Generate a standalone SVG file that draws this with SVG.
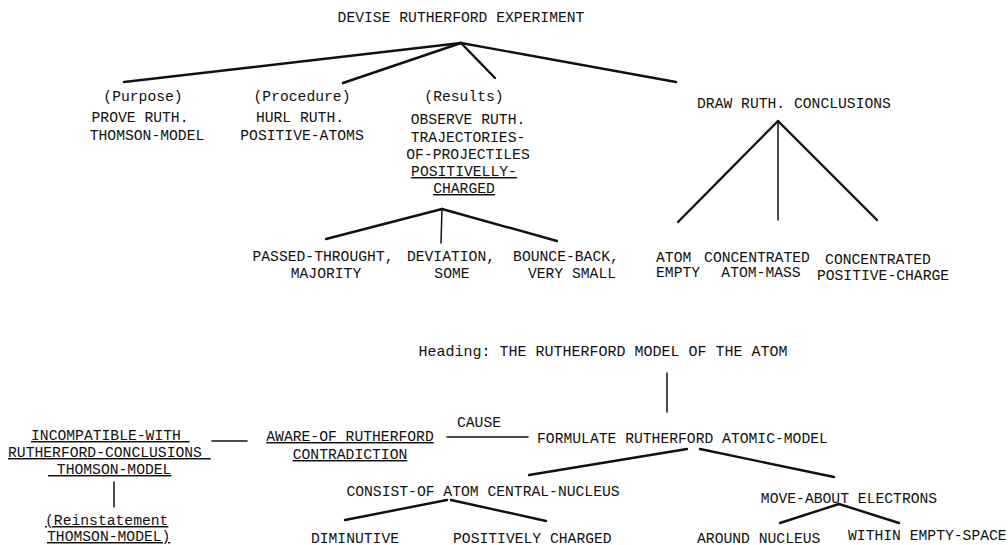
<svg xmlns="http://www.w3.org/2000/svg" width="1008" height="545" viewBox="0 0 1008 545">
<style>
text{font-family:"Liberation Mono","Courier New",monospace;font-size:14.7px;fill:#111;white-space:pre}
.m{text-anchor:middle}
.u{text-decoration:underline}
.h{font-size:15px}
line{stroke:#111;stroke-linecap:round}
.k{stroke-width:2.4}
.t{stroke-width:1.5}
</style>
<rect width="1008" height="545" fill="#fff"/>
<g id="connectors">
<line class="k" x1="461" y1="43" x2="124" y2="82"/>
<line class="k" x1="461" y1="43" x2="343" y2="83"/>
<line class="k" x1="461" y1="43" x2="495" y2="78"/>
<line class="k" x1="461" y1="43" x2="676" y2="82"/>
<line class="k" x1="778" y1="121" x2="678" y2="222"/>
<line class="t" x1="778" y1="121" x2="778" y2="220"/>
<line class="k" x1="778" y1="121" x2="877" y2="220"/>
<line class="k" x1="442" y1="209" x2="326" y2="239"/>
<line class="t" x1="442" y1="209" x2="441" y2="243"/>
<line class="k" x1="442" y1="209" x2="557" y2="241"/>
<line class="t" x1="667" y1="373" x2="667" y2="412"/>
<line class="t" x1="447" y1="437" x2="528" y2="437"/>
<line class="t" x1="212" y1="441" x2="247" y2="441"/>
<line class="t" x1="114" y1="482" x2="114" y2="507"/>
<line class="k" x1="687" y1="449" x2="529" y2="475"/>
<line class="k" x1="700" y1="449" x2="834" y2="477"/>
<line class="k" x1="447" y1="500" x2="345" y2="520"/>
<line class="k" x1="451" y1="500" x2="546" y2="521"/>
<line class="k" x1="839" y1="504" x2="780" y2="523"/>
<line class="k" x1="839" y1="504" x2="899" y2="523"/>
</g>
<g id="devise"><text class="m" x="461" y="22">DEVISE RUTHERFORD EXPERIMENT</text></g>
<g id="purpose">
<text class="m" x="143" y="101">(Purpose)</text>
<text class="m" x="140" y="122">PROVE RUTH.</text>
<text class="m" x="147" y="140">THOMSON-MODEL</text>
</g>
<g id="procedure">
<text class="m" x="302" y="101">(Procedure)</text>
<text class="m" x="300" y="122">HURL RUTH.</text>
<text class="m" x="302" y="140">POSITIVE-ATOMS</text>
</g>
<g id="results">
<text class="m" x="464" y="101">(Results)</text>
<text class="m" x="468" y="124">OBSERVE RUTH.</text>
<text class="m" x="468" y="142">TRAJECTORIES-</text>
<text class="m" x="468" y="159">OF-PROJECTILES</text>
<text class="m u" x="464" y="176">POSITIVELLY-</text>
<text class="m u" x="464" y="193">CHARGED</text>
</g>
<g id="draw"><text class="m" x="794" y="108">DRAW RUTH. CONCLUSIONS</text></g>
<g id="atom-empty">
<text x="656" y="262">ATOM</text>
<text x="656" y="277">EMPTY</text>
</g>
<g id="atom-mass">
<text class="m" x="757" y="262">CONCENTRATED</text>
<text class="m" x="761" y="277">ATOM-MASS</text>
</g>
<g id="positive-charge">
<text class="m" x="878" y="264">CONCENTRATED</text>
<text class="m" x="883" y="280">POSITIVE-CHARGE</text>
</g>
<g id="passed">
<text class="m" x="323" y="261">PASSED-THROUGHT,</text>
<text class="m" x="326" y="278">MAJORITY</text>
</g>
<g id="deviation">
<text class="m" x="451" y="261">DEVIATION,</text>
<text class="m" x="452" y="278">SOME</text>
</g>
<g id="bounce">
<text class="m" x="566" y="261">BOUNCE-BACK,</text>
<text class="m" x="572" y="278">VERY SMALL</text>
</g>
<g id="heading"><text class="m h" x="603" y="356">Heading: THE RUTHERFORD MODEL OF THE ATOM</text></g>
<g id="cause"><text class="m" x="479" y="427">CAUSE</text></g>
<g id="formulate"><text x="537" y="443">FORMULATE RUTHERFORD ATOMIC-MODEL</text></g>
<g id="aware">
<text class="m u" x="350" y="441">AWARE-OF RUTHERFORD</text>
<text class="m u" x="350" y="459">CONTRADICTION</text>
</g>
<g id="incompatible">
<text class="u" x="31" y="440">INCOMPATIBLE-WITH </text>
<text class="u" x="8" y="457">RUTHERFORD-CONCLUSIONS </text>
<text class="u" x="48" y="474"> THOMSON-MODEL</text>
</g>
<g id="reinstatement">
<text class="u" x="45" y="525">(Reinstatement</text>
<text class="u" x="47" y="541">THOMSON-MODEL)</text>
</g>
<g id="consist"><text class="m" x="483" y="496">CONSIST-OF ATOM CENTRAL-NUCLEUS</text></g>
<g id="move"><text class="m" x="849" y="503">MOVE-ABOUT ELECTRONS</text></g>
<g id="diminutive"><text class="m" x="355" y="543">DIMINUTIVE</text></g>
<g id="positively"><text x="453" y="543">POSITIVELY CHARGED</text></g>
<g id="around"><text x="697" y="543">AROUND NUCLEUS</text></g>
<g id="within"><text x="848" y="540">WITHIN EMPTY-SPACE</text></g>
</svg>
